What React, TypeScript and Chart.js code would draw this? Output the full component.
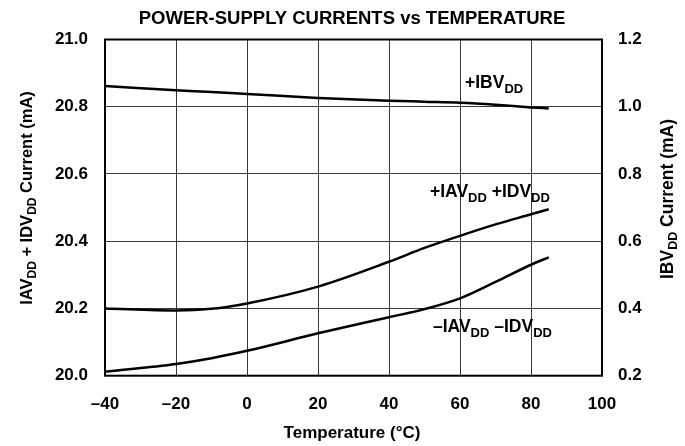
import React, { useEffect, useRef } from "react";
import { Chart, registerables } from "chart.js";

Chart.register(...registerables);

// ---- data ----
const temperatures = [-40, -20, -10, 0, 20, 40, 50, 60, 70, 80, 85];
const ibvdd = [1.062, 1.049, 1.044, 1.038, 1.026, 1.018, 1.015, 1.012, 1.006, 0.998, 0.995];
const plusIavIdv = [20.2, 20.194, 20.199, 20.215, 20.265, 20.339, 20.38, 20.416, 20.45, 20.48, 20.495];
const minusIavIdv = [20.012, 20.035, 20.052, 20.074, 20.126, 20.174, 20.198, 20.23, 20.279, 20.33, 20.352];
const xTicks = [-40, -20, 0, 20, 40, 60, 80, 100];
const leftTicks = [20.0, 20.2, 20.4, 20.6, 20.8, 21.0];
const rightTicks = [0.2, 0.4, 0.6, 0.8, 1.0, 1.2];

const TITLE = "POWER-SUPPLY CURRENTS vs TEMPERATURE";
const X_TITLE = "Temperature (\u00B0C)";

const FONT = '"Liberation Sans", Arial, Helvetica, sans-serif';

type Part = { t: string; sub?: boolean };

function drawRich(
  ctx: CanvasRenderingContext2D,
  parts: Part[],
  x: number,
  y: number,
  size: number,
  subSize: number,
  drop: number,
  align: "left" | "center"
) {
  ctx.textAlign = "left";
  ctx.textBaseline = "alphabetic";
  let total = 0;
  const widths = parts.map((p) => {
    ctx.font = `bold ${p.sub ? subSize : size}px ${FONT}`;
    const w = ctx.measureText(p.t).width;
    total += w;
    return w;
  });
  let cx = align === "center" ? x - total / 2 : x;
  parts.forEach((p, i) => {
    ctx.font = `bold ${p.sub ? subSize : size}px ${FONT}`;
    ctx.fillText(p.t, cx, p.sub ? y + drop : y);
    cx += widths[i];
  });
}

const annotations = {
  id: "annotations",
  afterDraw(chart: any) {
    const ctx: CanvasRenderingContext2D = chart.ctx;
    const a = chart.chartArea;
    ctx.save();
    ctx.fillStyle = "#000";
    // frame
    ctx.strokeStyle = "#000";
    ctx.lineWidth = 2;
    ctx.strokeRect(a.left, a.top, a.right - a.left, a.bottom - a.top);

    // title
    ctx.font = `bold 18.5px ${FONT}`;
    ctx.textAlign = "center";
    ctx.textBaseline = "alphabetic";
    ctx.fillText(TITLE, 352, 24);

    // x title
    ctx.font = `bold 17px ${FONT}`;
    ctx.fillText(X_TITLE, 352, 438);

    // left y title
    ctx.save();
    ctx.translate(26, 198);
    ctx.rotate(-Math.PI / 2);
    drawRich(
      ctx,
      [{ t: "IAV" }, { t: "DD", sub: true }, { t: " + IDV" }, { t: "DD", sub: true }, { t: " Current (mA)" }],
      0,
      6,
      16.5,
      12,
      4,
      "center"
    );
    ctx.restore();

    // right y title
    ctx.save();
    ctx.translate(667, 199);
    ctx.rotate(-Math.PI / 2);
    drawRich(
      ctx,
      [{ t: "IBV" }, { t: "DD", sub: true }, { t: " Current (mA)" }],
      0,
      6,
      17.5,
      12.5,
      4,
      "center"
    );
    ctx.restore();

    // curve labels
    drawRich(ctx, [{ t: "+IBV" }, { t: "DD", sub: true }], 465, 88, 17.5, 13, 5, "left");
    drawRich(
      ctx,
      [{ t: "+IAV" }, { t: "DD", sub: true }, { t: " +IDV" }, { t: "DD", sub: true }],
      430,
      197,
      17.5,
      13,
      5,
      "left"
    );
    drawRich(
      ctx,
      [{ t: "\u2013IAV" }, { t: "DD", sub: true }, { t: " \u2013IDV" }, { t: "DD", sub: true }],
      433,
      332,
      17.5,
      13,
      5,
      "left"
    );
    ctx.restore();
  },
};

export default function App() {
  const ref = useRef<HTMLCanvasElement>(null);

  useEffect(() => {
    if (!ref.current) return;
    const mk = (ys: number[]) => temperatures.map((t, i) => ({ x: t, y: ys[i] }));
    const lineStyle = {
      borderColor: "#000",
      borderWidth: 2.5,
      pointRadius: 0,
      fill: false,
      cubicInterpolationMode: "monotone" as const,
    };
    const tickFont = { family: FONT, size: 17, weight: "bold" as const };
    const chart = new Chart(ref.current, {
      type: "line",
      data: {
        datasets: [
          { label: "+IBVDD", data: mk(ibvdd), yAxisID: "y1", ...lineStyle },
          { label: "+IAVDD +IDVDD", data: mk(plusIavIdv), yAxisID: "y", ...lineStyle },
          { label: "-IAVDD -IDVDD", data: mk(minusIavIdv), yAxisID: "y", ...lineStyle },
        ],
      },
      options: {
        responsive: false,
        animation: false,
        devicePixelRatio: 1,
        layout: { padding: { top: 39.5, left: 0, right: 0, bottom: 0 } },
        plugins: { legend: { display: false }, tooltip: { enabled: false }, title: { display: false } },
        scales: {
          x: {
            type: "linear",
            min: -40,
            max: 100,
            afterBuildTicks: (s: any) => {
              s.ticks = xTicks.map((v) => ({ value: v }));
            },
            afterFit: (s: any) => {
              s.height = 70.3;
            },
            grid: { color: "#3a3a3a", lineWidth: 1, drawTicks: false },
            border: { display: false },
            ticks: {
              color: "#000",
              font: tickFont,
              padding: 18,
              maxRotation: 0,
              callback: (v: any) => (v < 0 ? "\u2013" + Math.abs(v) : String(v)),
            },
          },
          y: {
            type: "linear",
            position: "left",
            min: 20.0,
            max: 21.0,
            afterBuildTicks: (s: any) => {
              s.ticks = leftTicks.map((v) => ({ value: v }));
            },
            afterFit: (s: any) => {
              s.width = 105;
            },
            grid: { color: "#3a3a3a", lineWidth: 1, drawTicks: false },
            border: { display: false },
            ticks: {
              color: "#000",
              font: tickFont,
              padding: 17,
              callback: (v: any) => Number(v).toFixed(1),
            },
          },
          y1: {
            type: "linear",
            position: "right",
            min: 0.2,
            max: 1.2,
            afterBuildTicks: (s: any) => {
              s.ticks = rightTicks.map((v) => ({ value: v }));
            },
            afterFit: (s: any) => {
              s.width = 83;
            },
            grid: { display: false, drawTicks: false },
            border: { display: false },
            ticks: {
              color: "#000",
              font: tickFont,
              padding: 16,
              callback: (v: any) => Number(v).toFixed(1),
            },
          },
        },
      },
      plugins: [annotations],
    });
    return () => chart.destroy();
  }, []);

  return (
    <div style={{ position: "fixed", left: 0, top: 0, width: 685, height: 446, background: "#fff" }}>
      <canvas ref={ref} width={685} height={446} style={{ display: "block" }} />
    </div>
  );
}
